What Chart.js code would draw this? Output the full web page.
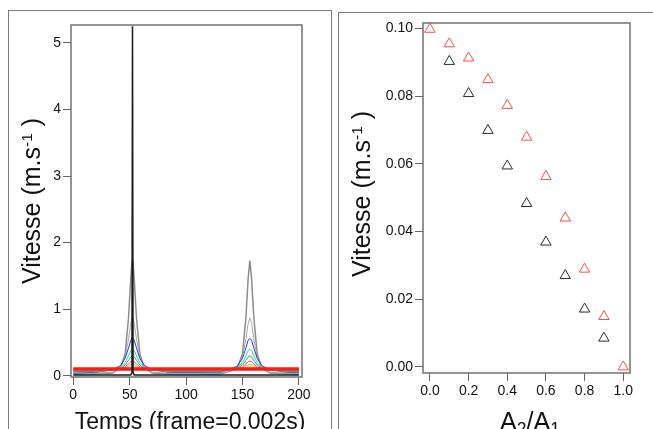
<!DOCTYPE html>
<html>
<head>
<meta charset="utf-8">
<script src="https://cdn.jsdelivr.net/npm/chart.js@4"></script>
<style>
  body { margin: 0; background: #fff; width: 653px; height: 429px; overflow: hidden; position: relative; font-family: "Liberation Sans", Arial, sans-serif; }
  .frame { position: absolute; border: 1.5px solid #7a7a7a; box-sizing: border-box; }
  .wrap { position: absolute; }
  .title { position: absolute; white-space: nowrap; text-align: center; color: #111; line-height: 24px; }
  .title sup { font-size: 0.62em; position: relative; top: -0.25em; vertical-align: top; }
  .title sub { font-size: 0.7em; vertical-align: -0.3em; line-height: 0; }
</style>
</head>
<body>
<div class="frame" style="left:8px;top:10px;width:324px;height:440px;"></div>
<div class="frame" style="left:338px;top:12px;width:330px;height:440px;"></div>

<div class="wrap" style="left:8px;top:10px;width:322px;height:419px;"><canvas id="left"></canvas></div>
<div class="wrap" style="left:338px;top:12px;width:315px;height:417px;"><canvas id="right"></canvas></div>

<div class="title" style="left:-69px;top:189px;width:200px;font-size:25px;transform:rotate(-90deg);">Vitesse (m.s<sup>-1</sup> )</div>
<div class="title" style="left:40px;top:409px;width:300px;font-size:23px;">Temps (frame=0.002s)</div>
<div class="title" style="left:261px;top:182px;width:200px;font-size:25px;transform:rotate(-90deg);">Vitesse (m.s<sup>-1</sup> )</div>
<div class="title" style="left:430px;top:409px;width:200px;font-size:25px;">A<sub>2</sub>/A<sub>1</sub></div>

<script>
// left panel : velocity vs frame, one curve per A2/A1
var frames = [0, 20, 35, 42, 46, 49, 51, 52, 52.5, 53, 54, 56, 59, 63, 70, 85, 130, 145, 150, 153, 155, 156.5, 158, 160, 163, 167, 174, 190, 200];

var vBlack   = [0.01, 0.01, 0.01, 0.01, 0.01, 0.01, 0.01, 0.05, 5.25, 0.05, 0.01, 0.01, 0.01, 0.01, 0.01, 0.01, 0.01, 0.01, 0.01, 0.01, 0.01, 0.01, 0.01, 0.01, 0.01, 0.01, 0.01, 0.01, 0.01];
var vRed     = [0.1, 0.1, 0.1, 0.1, 0.1, 0.1, 0.1, 0.1, 0.1, 0.1, 0.1, 0.1, 0.1, 0.1, 0.1, 0.1, 0.1, 0.1, 0.1, 0.1, 0.1, 0.1, 0.1, 0.1, 0.1, 0.1, 0.1, 0.1, 0.1];
var vYellow  = [0.09, 0.091, 0.094, 0.099, 0.107, 0.118, 0.127, 0.130, 0.13, 0.130, 0.127, 0.118, 0.107, 0.099, 0.094, 0.091, 0.09, 0.097, 0.107, 0.118, 0.127, 0.13, 0.127, 0.118, 0.107, 0.099, 0.094, 0.091, 0.09];
var vOrange  = [0.08, 0.083, 0.088, 0.099, 0.118, 0.144, 0.164, 0.169, 0.17, 0.169, 0.164, 0.144, 0.118, 0.099, 0.088, 0.083, 0.081, 0.097, 0.118, 0.144, 0.164, 0.169, 0.164, 0.144, 0.118, 0.099, 0.088, 0.083, 0.081];
var vMagenta = [0.07, 0.074, 0.084, 0.102, 0.133, 0.177, 0.210, 0.219, 0.22, 0.219, 0.210, 0.177, 0.133, 0.102, 0.084, 0.074, 0.072, 0.098, 0.133, 0.177, 0.210, 0.219, 0.210, 0.177, 0.133, 0.102, 0.084, 0.074, 0.072];
var vGreen   = [0.06, 0.067, 0.082, 0.112, 0.160, 0.231, 0.283, 0.298, 0.30, 0.298, 0.283, 0.231, 0.160, 0.112, 0.082, 0.067, 0.063, 0.105, 0.160, 0.231, 0.283, 0.297, 0.283, 0.231, 0.160, 0.112, 0.082, 0.067, 0.063];
var vCyan    = [0.05, 0.06, 0.082, 0.125, 0.196, 0.299, 0.376, 0.397, 0.40, 0.397, 0.376, 0.299, 0.196, 0.125, 0.082, 0.06, 0.055, 0.115, 0.196, 0.299, 0.376, 0.395, 0.376, 0.299, 0.196, 0.125, 0.082, 0.06, 0.055];
var vBlue    = [0.04, 0.05, 0.088, 0.154, 0.261, 0.417, 0.533, 0.566, 0.57, 0.566, 0.533, 0.417, 0.261, 0.154, 0.088, 0.05, 0.045, 0.139, 0.261, 0.417, 0.533, 0.56, 0.533, 0.417, 0.261, 0.154, 0.088, 0.05, 0.045];
var vGrayLow = [0.03, 0.035, 0.05, 0.12, 0.28, 0.553, 0.786, 0.86, 0.87, 0.86, 0.786, 0.553, 0.28, 0.12, 0.05, 0.035, 0.03, 0.10, 0.28, 0.553, 0.786, 0.87, 0.786, 0.553, 0.28, 0.12, 0.05, 0.035, 0.03];
var vGrayHi  = [0.02, 0.03, 0.04, 0.12, 0.33, 0.875, 1.465, 1.696, 1.73, 1.696, 1.465, 0.875, 0.33, 0.12, 0.04, 0.03, 0.02, 0.10, 0.33, 0.875, 1.465, 1.73, 1.465, 0.875, 0.33, 0.12, 0.04, 0.03, 0.02];

var leftYTicks = [0, 1, 2, 3, 4, 5];
var leftXTicks = [0, 50, 100, 150, 200];

// right panel : velocity vs A2/A1
var ratioRed = [0, 0.1, 0.2, 0.3, 0.4, 0.5, 0.6, 0.7, 0.8, 0.9, 1.0];
var vitRed = [0.0998, 0.0955, 0.0913, 0.0849, 0.0773, 0.0679, 0.0563, 0.0440, 0.0289, 0.0149, 0.0000];
var ratioBlack = [0.1, 0.2, 0.3, 0.4, 0.5, 0.6, 0.7, 0.8, 0.9];
var vitBlack = [0.0903, 0.0808, 0.0699, 0.0594, 0.0483, 0.0369, 0.0270, 0.0171, 0.0085];

var rightYTicks = [0, 0.02, 0.04, 0.06, 0.08, 0.10];
var rightXTicks = [0, 0.2, 0.4, 0.6, 0.8, 1.0];

Chart.defaults.font.family = "'Liberation Sans', Arial, sans-serif";
Chart.defaults.color = '#111';

// box round the plot area
var boxPlugin = {
  id: 'plotBox',
  afterDatasetsDraw: function(chart) {
    var a = chart.chartArea, ctx = chart.ctx;
    ctx.save();
    ctx.strokeStyle = '#707070';
    ctx.lineWidth = 1.5;
    ctx.strokeRect(a.left, a.top, a.right - a.left, a.bottom - a.top);
    ctx.restore();
  }
};

function pts(xs, ys) {
  return xs.map(function(x, i) { return { x: x, y: ys[i] }; });
}

function line(ys, color, w) {
  return { data: pts(frames, ys), borderColor: color, borderWidth: w || 1, pointRadius: 0, tension: 0 };
}

function axis(min, max, ticks, size, horiz, fmt) {
  return {
    type: 'linear', min: min, max: max,
    afterBuildTicks: function(s) { s.ticks = ticks.map(function(v) { return { value: v }; }); },
    afterFit: function(s) { if (horiz) s.height = size; else s.width = size; },
    grid: { drawOnChartArea: false, drawTicks: true, tickLength: 8, color: '#666', lineWidth: 1 },
    border: { display: false },
    ticks: { font: { size: 14 }, padding: 2, maxRotation: 0, autoSkip: false, callback: fmt }
  };
}

new Chart(document.getElementById('left'), {
  type: 'line',
  data: {
    datasets: [
      line(vBlack, '#1a1a1a', 1.5),
      line(vRed, '#ff1a1a', 3.5),
      line(vYellow, '#e0c800'),
      line(vOrange, '#ff9a1a'),
      line(vMagenta, '#d63cb4'),
      line(vGreen, '#2fb82f'),
      line(vCyan, '#33c6d6'),
      line(vBlue, '#2340b8'),
      line(vGrayLow, '#a8a8a8'),
      line(vGrayHi, '#8c8c8c', 1.5)
    ]
  },
  options: {
    responsive: true, maintainAspectRatio: false, animation: false,
    layout: { padding: { left: 0, top: 15, right: 28, bottom: 0 } },
    plugins: { legend: { display: false }, tooltip: { enabled: false } },
    scales: {
      x: axis(-2.0, 202.7, leftXTicks, 52, true, function(v) { return String(v); }),
      y: axis(-0.02, 5.27, leftYTicks, 63, false, function(v) { return String(v); })
    }
  },
  plugins: [boxPlugin]
});

new Chart(document.getElementById('right'), {
  type: 'scatter',
  data: {
    datasets: [
      { data: pts(ratioRed, vitRed), pointStyle: 'triangle', pointRadius: 6, borderWidth: 1, borderColor: '#f05050', backgroundColor: 'rgba(0,0,0,0)' },
      { data: pts(ratioBlack, vitBlack), pointStyle: 'triangle', pointRadius: 6, borderWidth: 1, borderColor: '#2a2a2a', backgroundColor: 'rgba(0,0,0,0)' }
    ]
  },
  options: {
    responsive: true, maintainAspectRatio: false, animation: false,
    layout: { padding: { left: 0, top: 11, right: 23, bottom: 0 } },
    plugins: { legend: { display: false }, tooltip: { enabled: false } },
    scales: {
      x: axis(-0.036, 1.035, rightXTicks, 56, true, function(v) { return v.toFixed(1); }),
      y: axis(-0.0018, 0.10165, rightYTicks, 85, false, function(v) { return v.toFixed(2); })
    }
  },
  plugins: [boxPlugin]
});
</script>
</body>
</html>
